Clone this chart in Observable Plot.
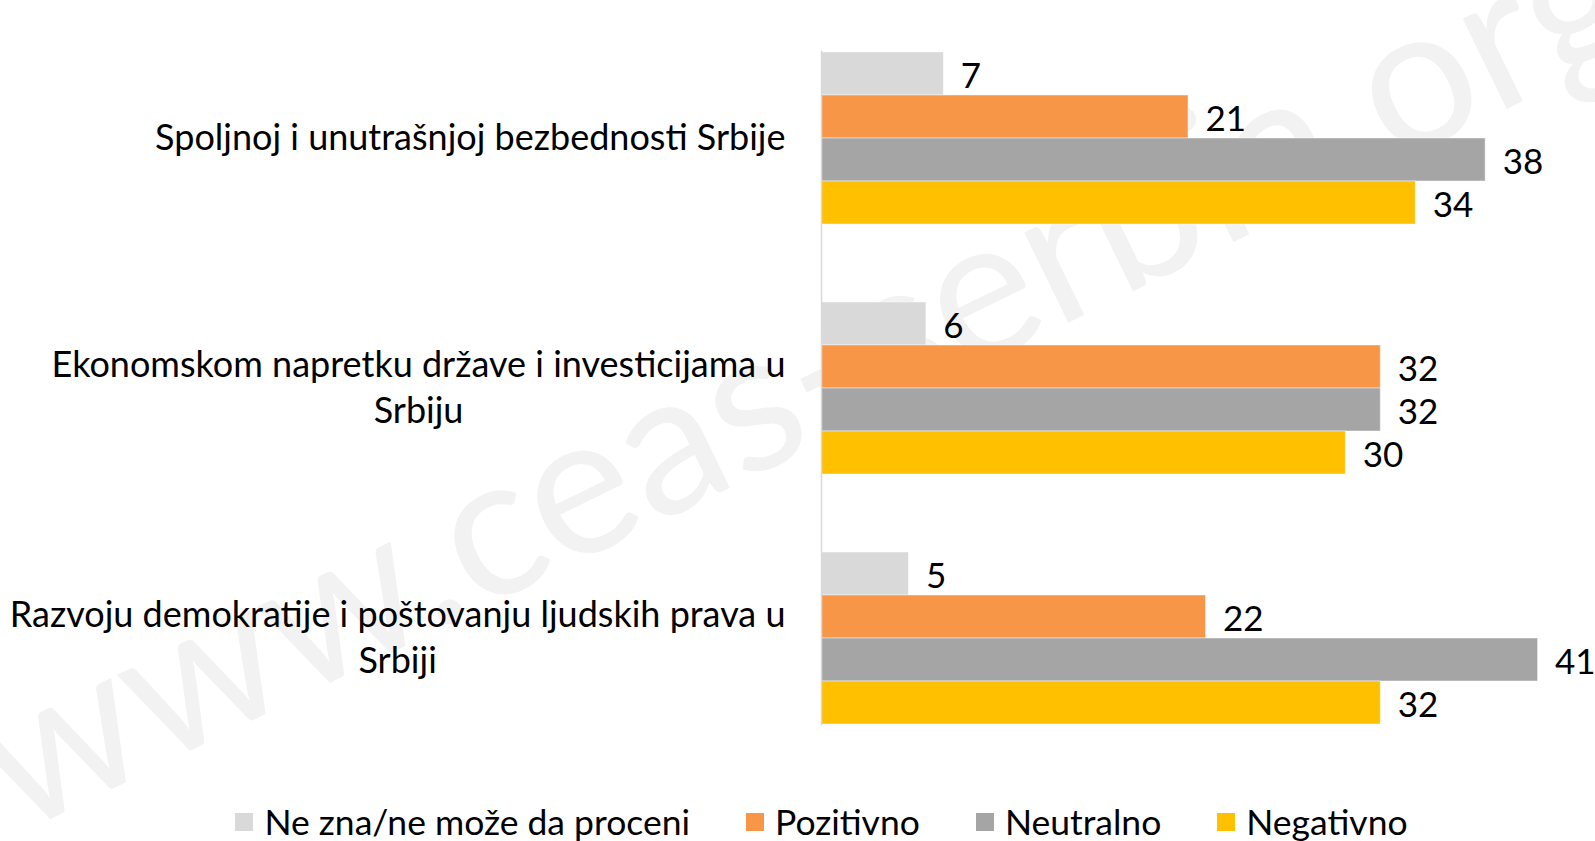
<!DOCTYPE html>
<html><head><meta charset="utf-8">
<script src="https://cdn.jsdelivr.net/npm/d3@7"></script>
<script src="https://cdn.jsdelivr.net/npm/@observablehq/plot@0.6"></script>
<style>
body{margin:0;background:#fff;font-family:Lato,"Open Sans",sans-serif;}
#chart{width:1595px;position:relative;}
</style></head><body><div id="chart"></div><script>
const categories = ["Spoljnoj i unutrašnjoj bezbednosti Srbije", "Ekonomskom napretku države i investicijama u\nSrbiju", "Razvoju demokratije i poštovanju ljudskih prava u\nSrbiji"];
const series = ["Ne zna/ne može da proceni", "Pozitivno", "Neutralno", "Negativno"];
const neZna = [7, 6, 5];
const pozitivno = [21, 32, 22];
const neutralno = [38, 32, 41];
const negativno = [34, 30, 32];
const colors = ["#d9d9d9", "#f79646", "#a5a5a5", "#ffc000"];
const watermark = "www.ceas-serbia.org";

const seriesValues = [neZna, pozitivno, neutralno, negativno];
const data = categories.flatMap((c, i) => series.map((s, j) => ({category: c, series: s, value: seriesValues[j][i]})));

const FONT = "Lato";
const ctx = document.createElement("canvas").getContext("2d");
function w(str, size) { ctx.font = `${size}px ${FONT}`; return ctx.measureText(str).width; }

const labelSize = 36;
const labelGap = 36;

const labelMarks = categories.map(c => {
  const first = c.split("\n")[0];
  const lw = w(first, labelSize);
  return Plot.text([c], {fy: d => d, frameAnchor: "left", textAnchor: "middle", dx: -(labelGap + lw / 2), dy: -3,
    lineHeight: 46 / labelSize, fontSize: labelSize, fill: "#000", fontFamily: FONT});
});

const chart = Plot.plot({
  width: 1595, height: 800,
  marginLeft: 821, marginRight: 5, marginTop: 12, marginBottom: 37,
  x: {domain: [0, 44], axis: null},
  y: {domain: series, axis: null, padding: 0},
  fy: {domain: categories, axis: null, paddingInner: 0.31, paddingOuter: 0.155},
  color: {domain: series, range: colors},
  style: {fontFamily: FONT, background: "white", overflow: "visible"},
  marks: [
    Plot.text([watermark], {facet: "super", frameAnchor: "middle", dx: -400, dy: -8, rotate: -26, fontSize: 198, fill: "#f2f2f2", fontFamily: FONT}),
    Plot.barX(data, {fy: "category", y: "series", x: "value", fill: "series", stroke: "#ffffff", strokeOpacity: 0.45, strokeWidth: 1}),
    Plot.text(data, {fy: "category", y: "series", x: "value", text: d => String(d.value), textAnchor: "start", dx: 17, dy: 3, fontSize: 35, fill: "#000"}),
    Plot.frame({anchor: "left", facet: "super", stroke: "#d9d9d9", strokeWidth: 1.5}),
    ...labelMarks
  ]
});
document.getElementById("chart").appendChild(chart);

const legend = Plot.legend({color: {domain: series, range: colors}, legend: "swatches", swatchSize: 18, className: "lg",
  style: {fontSize: "35.5px", fontFamily: FONT, color: "#000"}});
document.getElementById("chart").appendChild(legend);
</script>
<style>
.lg-swatches-wrap{justify-content:center;padding-left:48px;min-height:41px;margin:0 !important;}
.lg-swatch{margin-right:56px !important;}
.lg-swatch:last-child{margin-right:0 !important;}
.lg-swatch svg{margin-right:11px !important;}
</style>
</body></html>
